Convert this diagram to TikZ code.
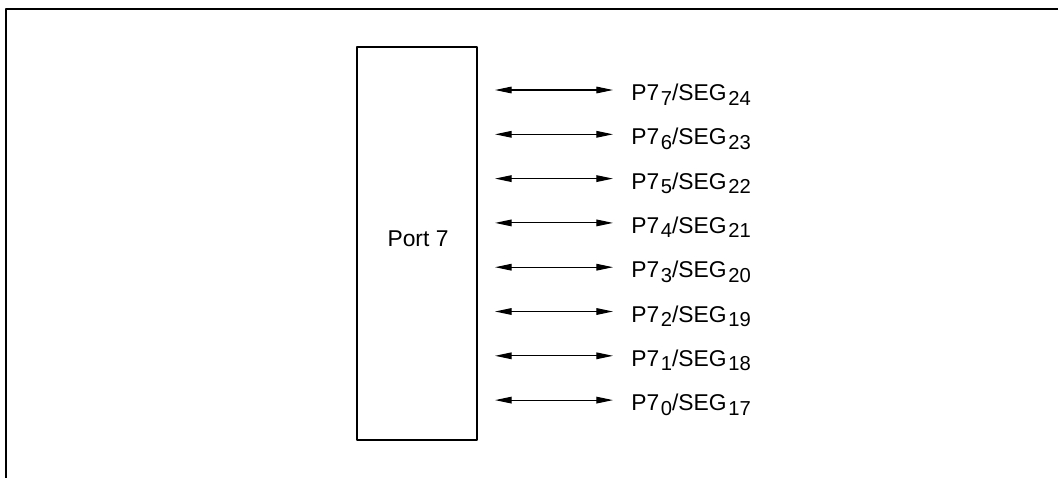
\documentclass[tikz,border=0pt]{standalone}
\usepackage{fontspec}
\setmainfont{Liberation Sans}
\usetikzlibrary{arrows.meta}
\newcommand{\lowsub}[1]{\kern0.9pt\raisebox{-2.6pt}{\fontsize{11.5}{13}\selectfont #1}}
\begin{document}
\begin{tikzpicture}[x=0.02cm, y=-0.02cm, font=\fontsize{13}{15}\selectfont, line join=round, >={Triangle[length=9.5pt,width=3.8pt]}]
		\useasboundingbox (0,0) rectangle (1058,478);
		\draw[line width=1.1pt] (1058,9) -- (6,9) -- (6,478);
		\draw[line width=0.6pt] (357,47) rectangle (477,440);
		\node[anchor=base, inner sep=0pt] (port) at (418,246.7) {Port 7};
		\foreach \i/\s in {7/24,6/23,5/22,4/21,3/20,2/19,1/18,0/17} {
			\path	(495,{90+(7-\i)*44.3}) coordinate (a\i)
				(613,{90+(7-\i)*44.3}) coordinate (b\i);
			\draw[line width=0.6pt,<->] (a\i) -- (b\i);
			\node[anchor=base west, inner sep=0pt] (p\i) at (631,{100.5+(7-\i)*44.3}) {P7\lowsub{\i}/SEG\lowsub{\s}};
		}
\end{tikzpicture}
\end{document}
